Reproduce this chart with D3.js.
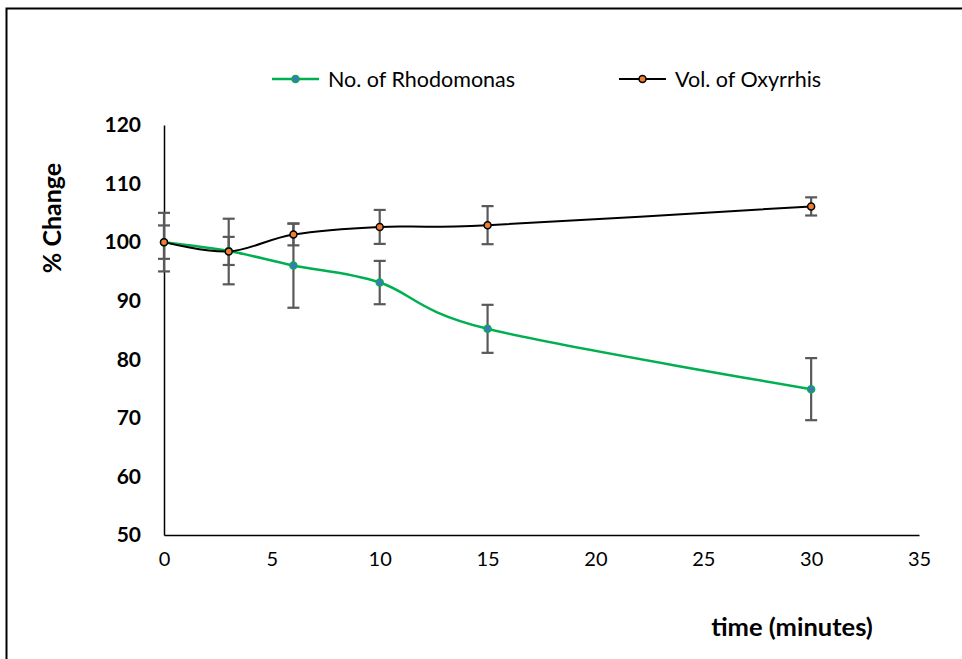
<!DOCTYPE html>
<html><head><meta charset="utf-8">
<script src="https://cdn.jsdelivr.net/npm/d3@7"></script>
<style>body{margin:0;background:#fff}svg{display:block}</style>
</head><body>
<svg id="c" width="962" height="659"></svg>
<script>
const times = [0, 3, 6, 10, 15, 30];
const rhodomonas = [100, 98.5, 96.0, 93.1, 85.2, 74.9];
const rhodomonasErr = [2.85, 2.4, 7.2, 3.7, 4.1, 5.3];
const oxyrrhis = [100, 98.4, 101.3, 102.6, 102.9, 106.1];
const oxyrrhisErr = [5.0, 5.6, 1.85, 2.9, 3.25, 1.55];
const xTicks = [0, 5, 10, 15, 20, 25, 30, 35];
const yTicks = [50, 60, 70, 80, 90, 100, 110, 120];
const seriesNames = ["No. of Rhodomonas", "Vol. of Oxyrrhis"];

const svg = d3.select("#c");
const font = "Lato, 'Open Sans', sans-serif";
const x = d3.scaleLinear().domain([0, 35]).range([164, 919]);
const y = d3.scaleLinear().domain([50, 120]).range([535, 125]);

// frame
svg.append("rect").attr("x", 6.5).attr("y", 8.5).attr("width", 1000).attr("height", 700)
  .attr("fill", "none").attr("stroke", "#000").attr("stroke-width", 2);

// axes
svg.append("g").attr("transform", "translate(0,535)")
  .call(d3.axisBottom(x).tickValues(xTicks).tickSize(0).tickPadding(17))
  .call(g => { g.select(".domain").attr("stroke", "#000").attr("stroke-width", 1.5);
    g.selectAll("text").attr("font-family", font).attr("font-size", 20).attr("fill", "#000"); });
svg.append("g").attr("transform", "translate(164,0)")
  .call(d3.axisLeft(y).tickValues(yTicks).tickSize(0).tickPadding(23))
  .call(g => { g.select(".domain").attr("stroke", "#000").attr("stroke-width", 1.5);
    g.selectAll("text").attr("font-family", font).attr("font-size", 21).attr("font-weight", "bold").attr("fill", "#000"); });

// axis titles
svg.append("text").attr("x", 792).attr("y", 636).attr("text-anchor", "middle")
  .attr("font-family", font).attr("font-size", 25.5).attr("font-weight", "bold").text("time (minutes)");
svg.append("text").attr("transform", "translate(61,218) rotate(-90)").attr("text-anchor", "middle")
  .attr("font-family", font).attr("font-size", 25).attr("font-weight", "bold").text("% Change");

const series = [
  {name: seriesNames[0], vals: rhodomonas, err: rhodomonasErr, color: "#00B050", fill: "#4472C4", sw: 2.5},
  {name: seriesNames[1], vals: oxyrrhis, err: oxyrrhisErr, color: "#000000", fill: "#ED7D31", sw: 2}
];

// error bars
series.forEach(s => {
  const g = svg.append("g").attr("stroke", "#595959").attr("stroke-width", 2.2);
  times.forEach((t, i) => {
    const cx = x(t), hi = y(s.vals[i] + s.err[i]), lo = y(s.vals[i] - s.err[i]);
    g.append("line").attr("x1", cx).attr("x2", cx).attr("y1", hi).attr("y2", lo);
    g.append("line").attr("x1", cx - 6).attr("x2", cx + 6).attr("y1", hi).attr("y2", hi);
    g.append("line").attr("x1", cx - 6).attr("x2", cx + 6).attr("y1", lo).attr("y2", lo);
  });
});

const line = d3.line().x(d => x(d[0])).y(d => y(d[1])).curve(d3.curveCardinal.tension(0));
series.forEach(s => {
  const pts = times.map((t, i) => [t, s.vals[i]]);
  svg.append("path").datum(pts).attr("d", line).attr("fill", "none")
    .attr("stroke", s.color).attr("stroke-width", s.sw);
});
series.forEach(s => {
  svg.append("g").selectAll("circle").data(times.map((t, i) => [t, s.vals[i]])).join("circle")
    .attr("cx", d => x(d[0])).attr("cy", d => y(d[1])).attr("r", 3.5)
    .attr("fill", s.fill).attr("stroke", s.color).attr("stroke-width", 1.5);
});

// legend
const legX = [272, 619];
series.forEach((s, i) => {
  const g = svg.append("g").attr("transform", `translate(${legX[i]},79)`);
  g.append("line").attr("x1", 0).attr("x2", 47).attr("stroke", s.color).attr("stroke-width", s.sw);
  g.append("circle").attr("cx", 23.5).attr("r", 3.5).attr("fill", s.fill).attr("stroke", s.color).attr("stroke-width", 1.5);
  g.append("text").attr("x", 56).attr("y", 0).attr("dy", "0.35em")
    .attr("font-family", font).attr("font-size", 21.5).attr("fill", "#000").text(s.name);
});
</script>
</body></html>
